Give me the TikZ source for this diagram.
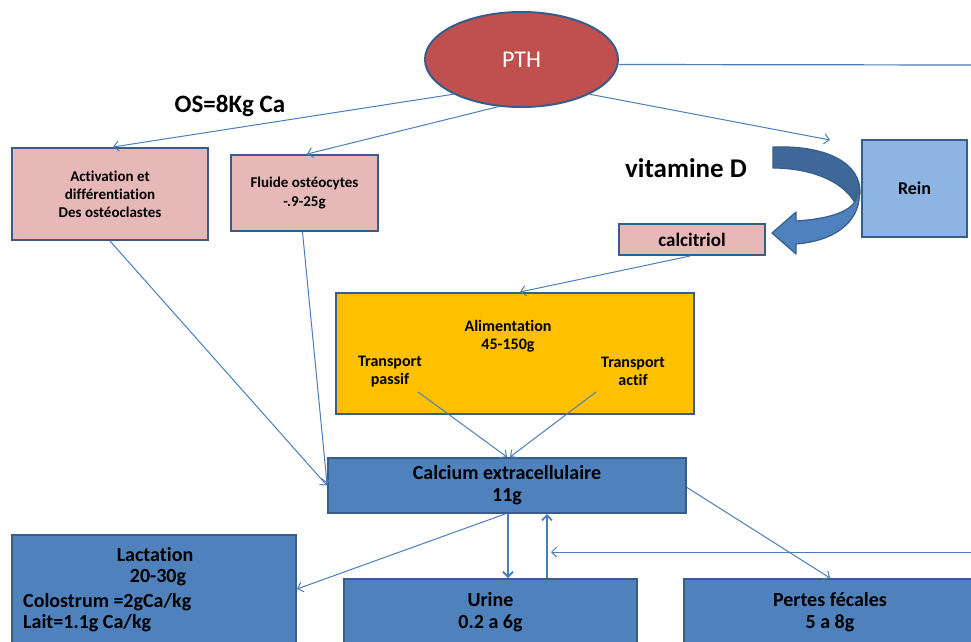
\documentclass[tikz,border=0pt]{standalone}
\usepackage{fontspec}
\setmainfont{Carlito}[RawFeature={-liga;-dlig;-calt;-clig}]
\usetikzlibrary{arrows.meta,shapes.geometric,calc}
\definecolor{bord}{HTML}{385D8A}
\definecolor{lnk}{HTML}{4A7EBB}
\definecolor{pinkf}{HTML}{E6B9B8}
\definecolor{bluef}{HTML}{4F81BD}
\definecolor{lbluef}{HTML}{8EB4E3}
\definecolor{orangef}{HTML}{FFC000}
\definecolor{redf}{HTML}{C0504D}
\definecolor{darkarr}{HTML}{3E6898}
\begin{document}
\begin{tikzpicture}[x=1pt,y=-1pt,
  box/.style={draw=bord,line width=2pt,rectangle,inner sep=0pt,align=center,text=black,font=\bfseries},
  pinkbox/.style={box,fill=pinkf},
  bluebox/.style={box,fill=bluef},
  fs15/.style={font=\bfseries\fontsize{15}{18}\selectfont},
  fs16/.style={font=\bfseries\fontsize{16}{18}\selectfont},
  fs19/.style={font=\bfseries\fontsize{19}{21}\selectfont},
  fs20/.style={font=\bfseries\fontsize{20}{22}\selectfont},
  lbl/.style={inner sep=0pt,align=center,text=black},
  link/.style={draw=lnk,line width=1pt,-{Straight Barb[length=5pt,width=10pt]}},
  thicklink/.style={link,line width=1.8pt},
  plain/.style={draw=lnk,line width=1.2pt}
]
\clip (0,0) rectangle (971,641);
\fill[white] (0,0) rectangle (971,641);

% nodes
\node[ellipse,draw=bord,line width=2pt,fill=redf,minimum width=193pt,minimum height=95pt,inner sep=0pt,
      text=white,font=\fontsize{24}{26}\selectfont] (pth) at (521.5,59.5) {PTH};
\node[lbl,font=\bfseries\fontsize{25}{27}\selectfont] (os) at (230,106) {OS=8Kg Ca};
\node[lbl,font=\bfseries\fontsize{27}{29}\selectfont] (vitd) at (686,168) {vitamine D};

\node[pinkbox,fs15,minimum width=196pt,minimum height=92pt] (act) at (110,194)
  {Activation et\\différentiation\\Des ostéoclastes};
\node[pinkbox,fs15,minimum width=147pt,minimum height=76pt] (fluide) at (304.5,193)
  {Fluide ostéocytes\\-.9-25g};
\node[box,fill=lbluef,font=\bfseries\fontsize{18}{20}\selectfont,minimum width=105pt,minimum height=97pt] (rein) at (914.5,188.5) {Rein};
\node[pinkbox,fs19,minimum width=146pt,minimum height=31pt] (calcit) at (692,239.5) {calcitriol};

\node[box,fill=orangef,minimum width=358pt,minimum height=121pt] (alim) at (515,353.5) {};
\node[lbl,fs16] (alimt) at (508,336) {Alimentation\\45-150g};
\node[lbl,fs16] (tpass) at (390,371.5) {Transport\\passif};
\node[lbl,fs16] (tact) at (633,371.5) {Transport\\actif};

\node[bluebox,fs20,minimum width=358pt,minimum height=55pt] (calc) at (507,485.5)
  {Calcium extracellulaire\\11g};

\node[bluebox,minimum width=284pt,minimum height=125pt] (lact) at (154,597.5) {};
\node[lbl,fs20] (lact1) at (155,555) {Lactation};
\node[lbl,fs20] (lact2) at (158,578) {20-30g};
\node[lbl,fs20,anchor=west] (lact3) at (23,602) {Colostrum =2gCa/kg};
\node[lbl,fs20,anchor=west] (lact4) at (23,623) {Lait=1.1g Ca/kg};

\node[bluebox,fs20,minimum width=293pt,minimum height=66pt] (urine) at (490.5,612) {Urine\\0.2 a 6g};
\node[bluebox,fs20,minimum width=292pt,minimum height=66pt] (pertes) at (830,612) {Pertes fécales\\5 a 8g};

% curved block arrow (vitamine D -> calcitriol)
\fill[darkarr,draw=bord,line width=1.2pt,line join=round]
  (773,147) .. controls (830,145) and (861,165) .. (860,193) -- (857,207)
  .. controls (846,181) and (810,168) .. (773,168) -- cycle;
\fill[bluef,draw=bord,line width=1.2pt,line join=round]
  (859,188) .. controls (863,220) and (836,241) .. (796,244) -- (796,254) -- (772,233)
  -- (796,212) -- (796,221) .. controls (828,219) and (850,212) .. (856,200) -- cycle;

% free coordinates
\coordinate (ra) at (975,65);
\coordinate (pr) at (830,140);
\coordinate (tp) at (418,392);
\coordinate (ta) at (596,392);
\coordinate (rb) at (975,552);
\coordinate (rbend) at (551,552);

% connectors
\draw[plain] ([yshift=-5pt]pth.east) -- (ra);
\draw[link] (pth.207) -- ([xshift=3pt]act.north);
\draw[link] (pth.244) -- ([xshift=2.5pt]fluide.north);
\draw[link] (pth.333) -- (pr);
\draw[link] ([xshift=-2pt]calcit.south) -- ([xshift=5pt]alim.north);
\draw[link] (act.south) -- (calc.west);
\draw[link] ([xshift=-2pt]fluide.south) -- ([yshift=2pt]calc.west);
\draw[link] (tp) -- (calc.north);
\draw[link] (ta) -- ([xshift=3pt]calc.north);
\draw[link] ([xshift=-2pt]calc.south) -- ([yshift=-55pt]lact.north east);
\draw[thicklink] ([xshift=1pt]calc.south) -- ([xshift=1pt]calc.south |- urine.north);
\draw[thicklink] ([xshift=40pt]calc.south |- urine.north) -- ([xshift=40pt]calc.south);
\draw[link] (rb) -- (rbend);
\draw[link] ([yshift=-2pt]calc.east) -- (pertes.north);
\end{tikzpicture}
\end{document}
